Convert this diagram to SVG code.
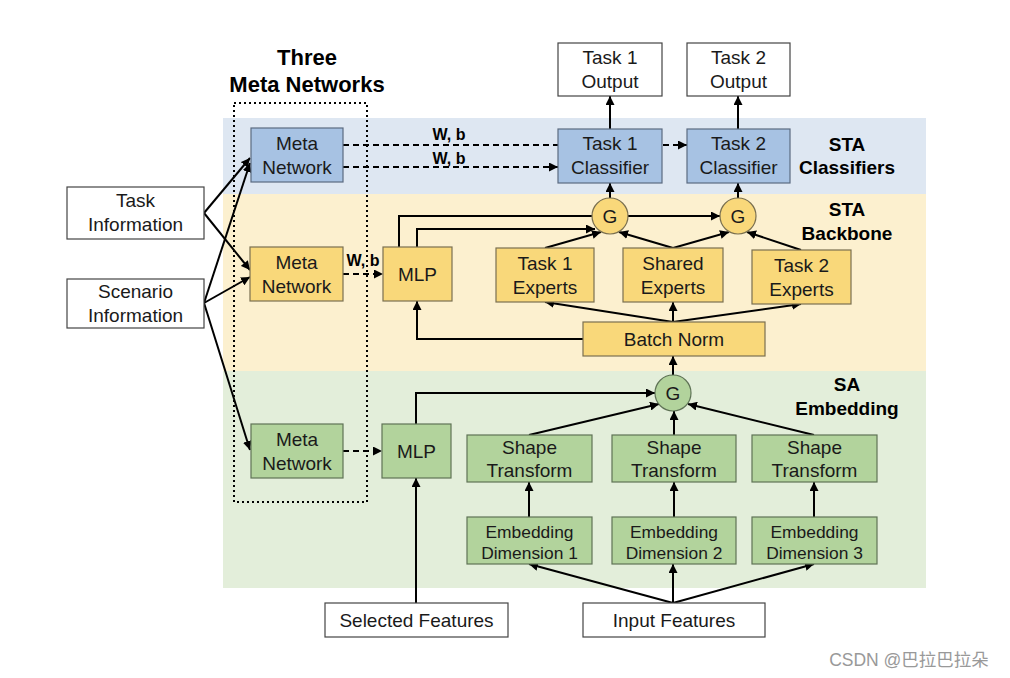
<svg xmlns="http://www.w3.org/2000/svg" width="1010" height="678" viewBox="0 0 1010 678">
<defs>
<marker id="ah" viewBox="0 0 10 10" refX="10" refY="5" markerWidth="9" markerHeight="9" markerUnits="userSpaceOnUse" orient="auto">
<path d="M0,0 L10,5 L0,10 z" fill="#000"/>
</marker>
<style>
text{font-family:"Liberation Sans",Arial,sans-serif;fill:#1a1a1a;text-anchor:middle}
.t{font-size:19px}
.s{font-size:17.4px}
.b{font-weight:bold;font-size:19px;fill:#000}
.wb{font-weight:bold;font-size:16px;fill:#000}
.blue{fill:#a7c2e3;stroke:#5b6b80;stroke-width:1.2}
.yel{fill:#f9d87a;stroke:#7a7050;stroke-width:1.2}
.grn{fill:#b2d39c;stroke:#5f7356;stroke-width:1.2}
.wht{fill:#fff;stroke:#444;stroke-width:1.2}
.c{fill:none;stroke:#000;stroke-width:2}
.d{fill:none;stroke:#000;stroke-width:2;stroke-dasharray:6,4}
</style>
</defs>
<rect width="1010" height="678" fill="#fff"/>
<g id="bands">
<rect x="223" y="118" width="703" height="76" fill="#dee7f2"/>
<rect x="223" y="194" width="703" height="177" fill="#fcf0cf"/>
<rect x="223" y="371" width="703" height="217" fill="#e3eeda"/>
</g>
<g id="meta-group">
<rect x="234" y="103" width="133" height="399" fill="none" stroke="#000" stroke-width="2" stroke-dasharray="2,3"/>
<text class="b" x="307" y="65" style="font-size:22px">Three</text>
<text class="b" x="307" y="92" style="font-size:22px">Meta Networks</text>
</g>
<g id="labels">
<text class="b" x="847" y="151">STA</text>
<text class="b" x="847" y="174">Classifiers</text>
<text class="b" x="847" y="216">STA</text>
<text class="b" x="847" y="240">Backbone</text>
<text class="b" x="847" y="391">SA</text>
<text class="b" x="847" y="415">Embedding</text>
<text class="wb" x="449" y="140">W, b</text>
<text class="wb" x="449" y="164">W, b</text>
<text class="wb" x="363" y="266">W, b</text>
</g>
<g id="connectors">
<path class="c" d="M204,213 L250,158" marker-end="url(#ah)"/>
<path class="c" d="M204,213 L250,270" marker-end="url(#ah)"/>
<path class="c" d="M204,303 L250,163" marker-end="url(#ah)"/>
<path class="c" d="M204,303 L250,277" marker-end="url(#ah)"/>
<path class="c" d="M204,303 L250,450" marker-end="url(#ah)"/>
<path class="d" d="M343,145 L687,145" marker-end="url(#ah)"/>
<path class="d" d="M343,167 L558,167" marker-end="url(#ah)"/>
<path class="d" d="M343,274 L383,274" marker-end="url(#ah)"/>
<path class="d" d="M343,451 L382,451" marker-end="url(#ah)"/>
<path class="c" d="M610,129 L610,96" marker-end="url(#ah)"/>
<path class="c" d="M738,129 L738,96" marker-end="url(#ah)"/>
<path class="c" d="M610,198 L610,183" marker-end="url(#ah)"/>
<path class="c" d="M738,198 L738,183" marker-end="url(#ah)"/>
<path class="c" d="M399,247 L399,216 L720,216" marker-end="url(#ah)"/>
<path class="c" d="M417,247 L417,229 L595,229" marker-end="url(#ah)"/>
<path class="c" d="M545,248 L601,232" marker-end="url(#ah)"/>
<path class="c" d="M673,248 L619,232" marker-end="url(#ah)"/>
<path class="c" d="M673,248 L729,232" marker-end="url(#ah)"/>
<path class="c" d="M801,250 L747,232" marker-end="url(#ah)"/>
<path class="c" d="M673,322 L545,302" marker-end="url(#ah)"/>
<path class="c" d="M673,322 L673,302" marker-end="url(#ah)"/>
<path class="c" d="M673,322 L801,304" marker-end="url(#ah)"/>
<path class="c" d="M583,339 L417,339 L417,301" marker-end="url(#ah)"/>
<path class="c" d="M673,375 L673,356" marker-end="url(#ah)"/>
<path class="c" d="M416,424 L416,393 L655,393" marker-end="url(#ah)"/>
<path class="c" d="M529,435 L659,404" marker-end="url(#ah)"/>
<path class="c" d="M674,435 L674,411" marker-end="url(#ah)"/>
<path class="c" d="M814,435 L688,404" marker-end="url(#ah)"/>
<path class="c" d="M529,517 L529,482" marker-end="url(#ah)"/>
<path class="c" d="M674,517 L674,482" marker-end="url(#ah)"/>
<path class="c" d="M814,517 L814,482" marker-end="url(#ah)"/>
<path class="c" d="M673,603 L529,564" marker-end="url(#ah)"/>
<path class="c" d="M673,603 L673,564" marker-end="url(#ah)"/>
<path class="c" d="M673,603 L814,564" marker-end="url(#ah)"/>
<path class="c" d="M416,603 L416,478" marker-end="url(#ah)"/>
</g>
<g id="task-info"><rect class="wht" x="67" y="187" width="137" height="52"/><text class="t" x="135.5" y="207">Task</text><text class="t" x="135.5" y="231">Information</text></g>
<g id="scenario-info"><rect class="wht" x="67" y="279" width="137" height="49"/><text class="t" x="135.5" y="298">Scenario</text><text class="t" x="135.5" y="322">Information</text></g>
<g id="meta-blue"><rect class="blue" x="251" y="128" width="92" height="54"/><text class="t" x="297" y="150">Meta</text><text class="t" x="297" y="174">Network</text></g>
<g id="meta-yellow"><rect class="yel" x="250" y="247" width="93" height="54"/><text class="t" x="296.5" y="269">Meta</text><text class="t" x="296.5" y="293">Network</text></g>
<g id="meta-green"><rect class="grn" x="251" y="424" width="92" height="54"/><text class="t" x="297" y="446">Meta</text><text class="t" x="297" y="470">Network</text></g>
<g id="task1-out"><rect class="wht" x="558" y="43" width="104" height="53"/><text class="t" x="610" y="64">Task 1</text><text class="t" x="610" y="88">Output</text></g>
<g id="task2-out"><rect class="wht" x="687" y="43" width="103" height="53"/><text class="t" x="738.5" y="64">Task 2</text><text class="t" x="738.5" y="88">Output</text></g>
<g id="task1-cls"><rect class="blue" x="558" y="129" width="104" height="54"/><text class="t" x="610" y="150">Task 1</text><text class="t" x="610" y="174">Classifier</text></g>
<g id="task2-cls"><rect class="blue" x="687" y="129" width="103" height="54"/><text class="t" x="738.5" y="150">Task 2</text><text class="t" x="738.5" y="174">Classifier</text></g>
<g id="g1"><circle cx="610" cy="216" r="18" fill="#f9d87a" stroke="#7a7050" stroke-width="1.2"/><text class="t" x="610" y="223">G</text></g>
<g id="g2"><circle cx="738" cy="216" r="18" fill="#f9d87a" stroke="#7a7050" stroke-width="1.2"/><text class="t" x="738" y="223">G</text></g>
<g id="mlp-yellow"><rect class="yel" x="383" y="247" width="69" height="54"/><text class="t" x="417.5" y="281">MLP</text></g>
<g id="task1-exp"><rect class="yel" x="496" y="248" width="98" height="54"/><text class="t" x="545" y="270">Task 1</text><text class="t" x="545" y="294">Experts</text></g>
<g id="shared-exp"><rect class="yel" x="623" y="248" width="100" height="54"/><text class="t" x="673" y="270">Shared</text><text class="t" x="673" y="294">Experts</text></g>
<g id="task2-exp"><rect class="yel" x="752" y="250" width="99" height="54"/><text class="t" x="801.5" y="272">Task 2</text><text class="t" x="801.5" y="296">Experts</text></g>
<g id="batch-norm"><rect class="yel" x="583" y="322" width="182" height="34"/><text class="t" x="674" y="346">Batch Norm</text></g>
<g id="g3"><circle cx="673" cy="393" r="18" fill="#b2d39c" stroke="#5f7356" stroke-width="1.2"/><text class="t" x="673" y="400">G</text></g>
<g id="mlp-green"><rect class="grn" x="382" y="424" width="69" height="54"/><text class="t" x="416.5" y="458">MLP</text></g>
<g id="st1"><rect class="grn" x="467" y="435" width="125" height="47"/><text class="t" x="529.5" y="454">Shape</text><text class="t" x="529.5" y="477">Transform</text></g>
<g id="st2"><rect class="grn" x="612" y="435" width="124" height="47"/><text class="t" x="674" y="454">Shape</text><text class="t" x="674" y="477">Transform</text></g>
<g id="st3"><rect class="grn" x="752" y="435" width="125" height="47"/><text class="t" x="814.5" y="454">Shape</text><text class="t" x="814.5" y="477">Transform</text></g>
<g id="ed1"><rect class="grn" x="467" y="517" width="125" height="47"/><text class="s" x="529.5" y="538">Embedding</text><text class="s" x="529.5" y="559">Dimension 1</text></g>
<g id="ed2"><rect class="grn" x="612" y="517" width="124" height="47"/><text class="s" x="674" y="538">Embedding</text><text class="s" x="674" y="559">Dimension 2</text></g>
<g id="ed3"><rect class="grn" x="752" y="517" width="125" height="47"/><text class="s" x="814.5" y="538">Embedding</text><text class="s" x="814.5" y="559">Dimension 3</text></g>
<g id="selected"><rect class="wht" x="325" y="603" width="183" height="34"/><text class="t" x="416.5" y="627">Selected Features</text></g>
<g id="input"><rect class="wht" x="583" y="603" width="182" height="34"/><text class="t" x="674" y="627">Input Features</text></g>
<text x="909" y="666" style="font-size:17.5px;fill:#999;font-family:'Liberation Sans','Noto Sans CJK SC',sans-serif">CSDN @巴拉巴拉朵</text>
</svg>
